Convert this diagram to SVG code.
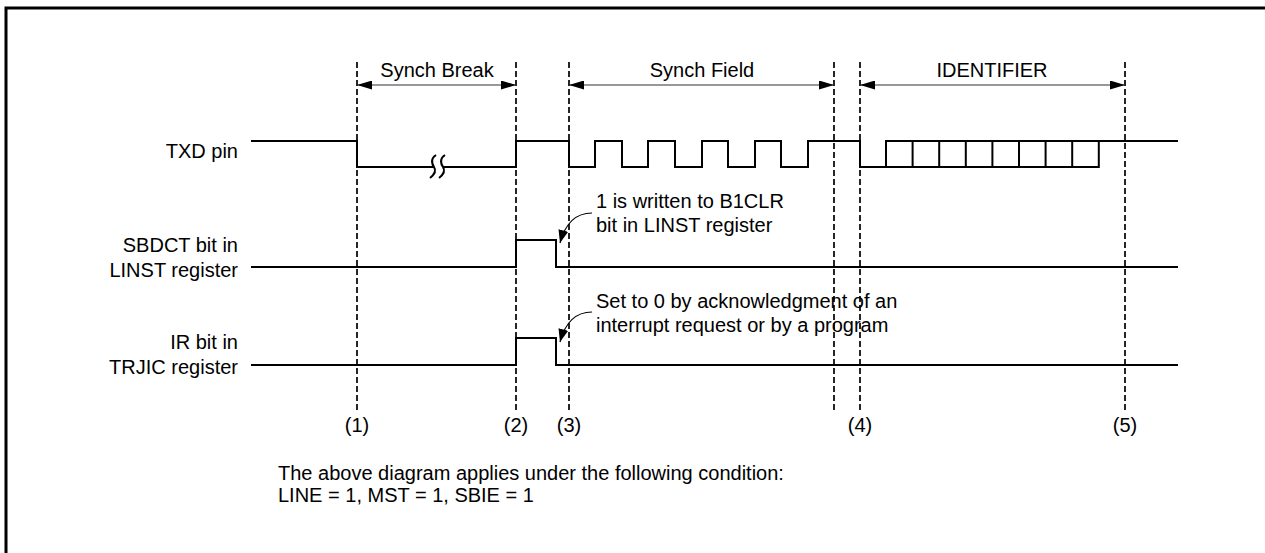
<svg xmlns="http://www.w3.org/2000/svg" width="1265" height="553" viewBox="0 0 1265 553">
<style>
text{font-family:"Liberation Sans",Arial,sans-serif;font-size:20px;fill:#000}
.r{text-anchor:end}
.m{text-anchor:middle}
.sig{fill:none;stroke:#000;stroke-width:2}
.dash{fill:none;stroke:#000;stroke-width:1.7;stroke-dasharray:6,3}
.dim{fill:none;stroke:#333;stroke-width:1.2}
.ann{fill:none;stroke:#000;stroke-width:1.2}
</style>
<defs>
<marker id="ah" viewBox="0 0 15 9" refX="15" refY="4.5" markerWidth="15" markerHeight="9" markerUnits="userSpaceOnUse" orient="auto-start-reverse">
<path d="M0,0 L15,4.5 L0,9 Z" fill="#000"/>
</marker>
<marker id="ca" viewBox="0 0 13 10" refX="13" refY="5" markerWidth="13" markerHeight="10" markerUnits="userSpaceOnUse" orient="auto">
<path d="M0,0 L13,5 L0,10 Z" fill="#000"/>
</marker>
</defs>
<rect width="1265" height="553" fill="#fff"/>
<g id="frame">
<path d="M1265,8 H6 V553" fill="none" stroke="#000" stroke-width="3"/>
</g>
<g id="connectors">
<line class="dash" x1="357" y1="62" x2="357" y2="410"/>
<line class="dash" x1="516" y1="62" x2="516" y2="410"/>
<line class="dash" x1="569" y1="62" x2="569" y2="410"/>
<line class="dash" x1="834" y1="62" x2="834" y2="410"/>
<line class="dash" x1="860" y1="62" x2="860" y2="410"/>
<line class="dash" x1="1125" y1="62" x2="1125" y2="410"/>
<line class="dim" x1="357" y1="85" x2="516" y2="85" marker-start="url(#ah)" marker-end="url(#ah)"/>
<line class="dim" x1="569" y1="85" x2="834" y2="85" marker-start="url(#ah)" marker-end="url(#ah)"/>
<line class="dim" x1="860" y1="85" x2="1125" y2="85" marker-start="url(#ah)" marker-end="url(#ah)"/>
<path class="ann" d="M592,213 Q568,213 560,243" marker-end="url(#ca)"/>
<path class="ann" d="M592,312 Q568,312 560,342" marker-end="url(#ca)"/>
</g>
<g id="txd">
<path class="sig" d="M251,141 H357 V167 H516 V141 H569 V167 H595 V141 H622 V167 H648 V141 H675 V167 H702 V141 H728 V167 H755 V141 H781 V167 H808 V141 H860 V167 H886 V141 H1178"/>
<path class="sig" d="M886,167 H1098.8 V141 M912.6,141 V167 M939.2,141 V167 M965.8,141 V167 M992.4,141 V167 M1019,141 V167 M1045.6,141 V167 M1072.2,141 V167"/>
<path d="M436,155 c-6,4 -4,9 -2,12 c2,3 1,7 -4,11 l9,0 c5,-4 6,-8 4,-11 c-2,-3 -4,-8 2,-12 z" fill="#fff" stroke="none"/>
<path class="sig" stroke-width="1.5" d="M436,155 c-6,4 -4,9 -2,12 c2,3 1,7 -4,11 M445,155 c-6,4 -4,9 -2,12 c2,3 1,7 -4,11"/>
<text class="r" x="238" y="158">TXD pin</text>
</g>
<g id="sbdct">
<path class="sig" d="M251,267 H516 V240 H556 V267 H1178"/>
<text class="r" x="238" y="252">SBDCT bit in</text>
<text class="r" x="238" y="277">LINST register</text>
<text x="596" y="208">1 is written to B1CLR</text>
<text x="596" y="232">bit in LINST register</text>
</g>
<g id="ir">
<path class="sig" d="M251,365 H516 V338 H556 V365 H1178"/>
<text class="r" x="238" y="349">IR bit in</text>
<text class="r" x="238" y="374">TRJIC register</text>
<text x="596" y="308">Set to 0 by acknowledgment of an</text>
<text x="596" y="332">interrupt request or by a program</text>
</g>
<g id="labels">
<text class="m" x="437" y="77">Synch Break</text>
<text class="m" x="702" y="77">Synch Field</text>
<text class="m" x="992" y="77">IDENTIFIER</text>
<text class="m" x="357" y="432">(1)</text>
<text class="m" x="516" y="432">(2)</text>
<text class="m" x="569" y="432">(3)</text>
<text class="m" x="860" y="432">(4)</text>
<text class="m" x="1125" y="432">(5)</text>
<text x="278" y="480">The above diagram applies under the following condition:</text>
<text x="278" y="502">LINE = 1, MST = 1, SBIE = 1</text>
</g>
</svg>
